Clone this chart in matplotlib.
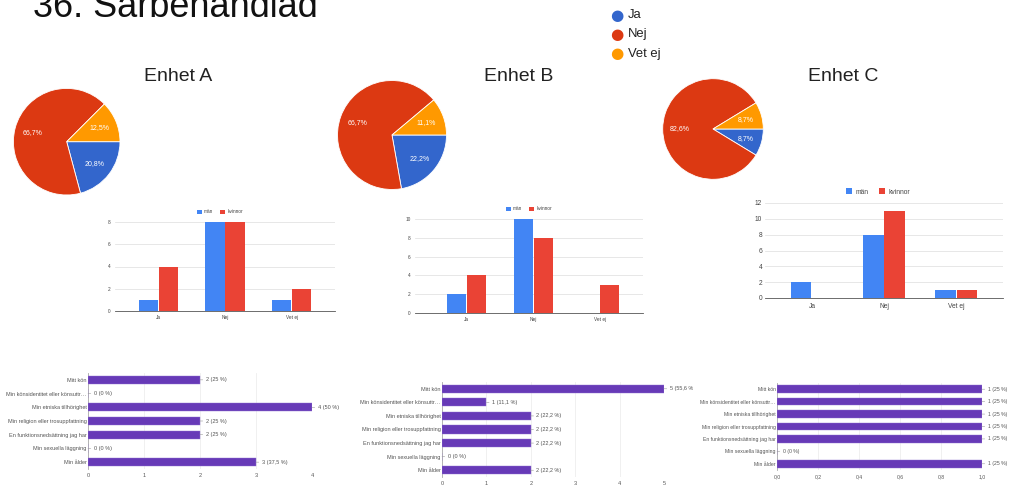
import numpy as np
import matplotlib
matplotlib.use('Agg')
import matplotlib.pyplot as plt
from matplotlib.transforms import Bbox, TransformedBbox

plt.rcParams['font.family'] = ['Liberation Sans', 'DejaVu Sans']

# Svar per enhet (Ja / Nej / Vet ej), uppdelat på män och kvinnor
svar = ['Ja', 'Nej', 'Vet ej']
man_A = [1, 8, 1]
kvinnor_A = [4, 8, 2]
man_B = [2, 10, 0]
kvinnor_B = [4, 8, 3]
man_C = [2, 8, 1]
kvinnor_C = [0, 11, 1]

# Orsaker till särbehandling
orsaker = ['Mitt kön', 'Min könsidentitet eller könsuttr…',
           'Min etniska tillhörighet', 'Min religion eller trosuppfattning',
           'En funktionsnedsättning jag har', 'Min sexuella läggning',
           'Min ålder']
orsak_A = [2, 0, 4, 2, 2, 0, 3]
orsak_B = [5, 1, 2, 2, 2, 0, 2]
orsak_C = [1, 1, 1, 1, 1, 0, 1]
antal_A, antal_B, antal_C = 8, 9, 4

PIE_COLORS = ['#3366cc', '#dc3912', '#ff9900']
BLUE, RED, PURPLE = '#4285f4', '#ea4335', '#673ab7'

W, H = 1010, 488
fig = plt.figure(figsize=(W / 100, H / 100), dpi=100)


def px_axes(l, t, r, b):
    return fig.add_axes([l / W, 1 - b / H, (r - l) / W, (b - t) / H])


def komma(v):
    s = f'{v:.1f}'
    if s.endswith('.0'):
        s = s[:-2]
    return s.replace('.', ',')


#%% rubrik och förklaring
fig.text(33 / W, 1 - 17 / H, '36. Särbehandlad', fontsize=26, color='#111111',
         va='baseline', ha='left')
for i, (lab, col) in enumerate(zip(svar, PIE_COLORS)):
    y = 1 - (15 + 19.5 * i) / H
    fig.text(617 / W, y, '\u25CF', color=col, fontsize=11, ha='center', va='center',
             family='DejaVu Sans')
    fig.text(628 / W, y, lab, color='#222222', fontsize=9.4, ha='left', va='center')

#%% cirkeldiagram
for namn, cx, cy, r, tx, man, kv in [('Enhet A', 66.7, 141.7, 53.3, 178.5, man_A, kvinnor_A),
                                      ('Enhet B', 392, 135, 54.5, 519, man_B, kvinnor_B),
                                      ('Enhet C', 713, 129, 50.3, 843, man_C, kvinnor_C)]:
    fig.text(tx / W, 1 - 81 / H, namn, fontsize=14, color='#222222',
             ha='center', va='baseline')
    tot = np.array(man) + np.array(kv)
    ax = px_axes(cx - r, cy - r, cx + r, cy + r)
    ax.pie(tot, colors=PIE_COLORS, startangle=0, counterclock=False,
           autopct=lambda p: f'{p:.1f}%'.replace('.', ','), pctdistance=0.67,
           wedgeprops=dict(edgecolor='white', linewidth=0.6),
           textprops=dict(color='white', fontsize=5))
    ax.set_xlim(-1, 1)
    ax.set_ylim(-1, 1)

#%% stapeldiagram män / kvinnor
for box, xl, man, kv, ymax, fs, pady, padx, leg in [
        ((115, 222, 335, 311), (-0.65, 2.65), man_A, kvinnor_A, 8, 3.4, 3, 3, (220, 212)),
        ((415, 219, 643, 313), (-0.78, 2.65), man_B, kvinnor_B, 10, 3.4, 3, 3, (529, 209)),
        ((765, 203, 1003, 298), (-0.65, 2.65), man_C, kvinnor_C, 12, 4.8, 2, 3.5, (878, 192))]:
    ax = px_axes(*box)
    x = np.arange(len(svar))
    w = 0.3
    ax.bar(x - w / 2, man, w * 0.96, color=BLUE, label='män', zorder=3)
    ax.bar(x + w / 2, kv, w * 0.96, color=RED, label='kvinnor', zorder=3)
    ax.set_xlim(*xl)
    ax.set_ylim(0, ymax)
    ax.set_yticks(np.arange(0, ymax + 1, 2))
    ax.set_xticks(x, svar)
    ax.grid(axis='y', color='#dddddd', lw=0.5)
    ax.set_axisbelow(True)
    for s in ['top', 'right', 'left']:
        ax.spines[s].set_visible(False)
    ax.spines['bottom'].set_color('#555555')
    ax.spines['bottom'].set_linewidth(0.6)
    ax.spines['bottom'].set_zorder(4)
    ax.tick_params(length=0, labelsize=fs, colors='#444444')
    ax.tick_params(axis='y', pad=pady)
    ax.tick_params(axis='x', pad=padx)
    h, l = ax.get_legend_handles_labels()
    fig.legend(h, l, loc='center', bbox_to_anchor=(leg[0] / W, 1 - leg[1] / H),
               ncol=2, frameon=False, fontsize=fs, handlelength=1, handleheight=1,
               handletextpad=0.5, columnspacing=1.5, labelcolor='#444444')

#%% liggande stapeldiagram, orsaker
for box, vals, n, xmax, ticks, fs in [
        ((88, 373, 312, 469), orsak_A, antal_A, 4, np.arange(0, 5), 4.0),
        ((442, 382, 664, 477), orsak_B, antal_B, 5, np.arange(0, 6), 4.0),
        ((777, 383, 982, 470), orsak_C, antal_C, 1, np.linspace(0, 1, 6), 3.7)]:
    ax = px_axes(*box)
    y = np.arange(len(orsaker))
    ax.barh(y, vals, 0.6, color=PURPLE, edgecolor='#8f6fd0', linewidth=0.3, zorder=3)
    ax.set_ylim(len(orsaker) - 0.5, -0.5)
    ax.set_xlim(0, xmax)
    ax.set_yticks(y, orsaker)
    if xmax == 1:
        ax.set_xticks(ticks, [f'{t:.1f}'.replace('.', ',') for t in ticks])
    else:
        ax.set_xticks(ticks, [str(t) for t in ticks])
    ax.grid(axis='x', color='#eeeeee', lw=0.6)
    ax.set_axisbelow(True)
    for s in ['top', 'right', 'bottom']:
        ax.spines[s].set_visible(False)
    ax.spines['left'].set_color('#aaaaaa')
    ax.spines['left'].set_linewidth(0.6)
    ax.tick_params(length=0, labelsize=fs, colors='#555555')
    ax.tick_params(axis='y', pad=1)
    ax.tick_params(axis='x', pad=3)
    for i, v in enumerate(vals):
        t = ax.annotate(f'{v} ({komma(100 * v / n)} %)', xy=(v, i), xytext=(4, 0),
                        textcoords='offset points', va='center', ha='left',
                        fontsize=fs, color='#555555', annotation_clip=False,
                        arrowprops=dict(arrowstyle='-', color='#999999', lw=0.4,
                                        shrinkA=0, shrinkB=0))
        if xmax == 5:
            # texten klipps där nästa diagram börjar
            t.set_clip_box(TransformedBbox(Bbox.from_extents(0, 0, 693 / W, 1),
                                           fig.transFigure))
            t.set_clip_on(True)

fig.savefig('out.png', dpi=100)
